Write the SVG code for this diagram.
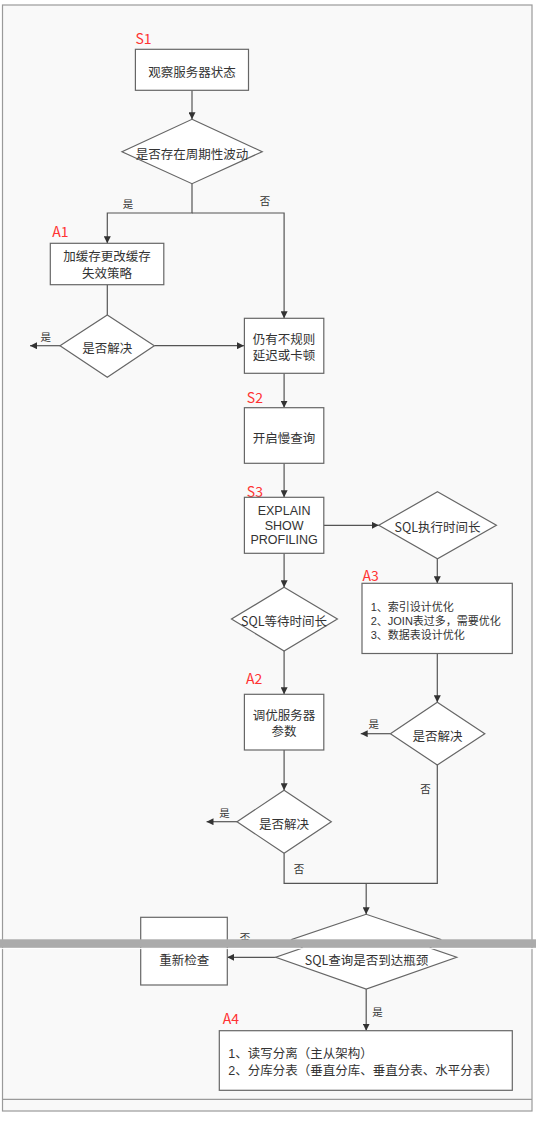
<svg xmlns="http://www.w3.org/2000/svg" width="536" height="1131" viewBox="0 0 536 1131">
<style>
.bg{fill:#f9f9f9;stroke:#9a9a9a;stroke-width:1.2}
.box{fill:#ffffff;stroke:#666666;stroke-width:1.2}
.t{font-family:"Noto Sans CJK SC","Noto Sans",sans-serif;font-size:12.5px;fill:#333333;text-anchor:middle;dominant-baseline:central}
.m{font-family:"Liberation Sans","Noto Sans CJK SC",sans-serif;font-size:12.5px;fill:#333333;text-anchor:middle;dominant-baseline:central}
.tl{font-family:"Liberation Sans","Noto Sans CJK SC",sans-serif;fill:#333333;dominant-baseline:central}
.lab{font-family:"Noto Sans CJK SC","Noto Sans",sans-serif;font-size:10.5px;fill:#333333;text-anchor:middle;dominant-baseline:central}
.red{font-family:"Noto Sans CJK SC","Noto Sans",sans-serif;font-size:14px;fill:#ff3333}
.c{fill:none;stroke:#555555;stroke-width:1.2}
.ca{fill:none;stroke:#555555;stroke-width:1.2;marker-end:url(#ah)}
</style>
<defs>
<marker id="ah" viewBox="0 0 10 10" refX="10" refY="5" markerWidth="7" markerHeight="7" markerUnits="userSpaceOnUse" orient="auto">
<path d="M0,0 L10,5 L0,10 Z" fill="#333333"/>
</marker>
</defs>
<rect x="0" y="0" width="536" height="1131" fill="#ffffff"/>
<rect class="bg" x="2.5" y="5" width="529.5" height="1106"/>
<line x1="2.5" y1="1099.3" x2="532" y2="1099.3" stroke="#9a9a9a" stroke-width="1.2"/>

<g id="connectors">
<line class="ca" x1="192" y1="90.3" x2="192" y2="119.3"/>
<polyline class="ca" points="192,183.7 192,213 107.3,213 107.3,243.3"/>
<polyline class="ca" points="192,213 284.1,213 284.1,318.3"/>
<line class="c" x1="107.3" y1="284.7" x2="107.3" y2="315" stroke-width="1.8"/>
<line class="ca" x1="60" y1="345.7" x2="30" y2="345.7"/>
<line class="ca" x1="154.3" y1="345.7" x2="244" y2="345.7"/>
<line class="ca" x1="284.1" y1="373.3" x2="284.1" y2="407.7"/>
<line class="ca" x1="284.1" y1="463.3" x2="284.1" y2="497.3"/>
<line class="ca" x1="323.8" y1="525.3" x2="378.8" y2="525.3"/>
<line class="ca" x1="437.3" y1="558.7" x2="437.3" y2="583.3"/>
<line class="ca" x1="437.3" y1="653.5" x2="437.3" y2="702.3"/>
<line class="ca" x1="390.4" y1="733.7" x2="360.7" y2="733.7"/>
<line class="ca" x1="284.1" y1="553.3" x2="284.1" y2="587.3"/>
<line class="ca" x1="284.1" y1="651" x2="284.1" y2="694.3"/>
<line class="ca" x1="284.1" y1="750" x2="284.1" y2="790.3"/>
<line class="ca" x1="237" y1="821.7" x2="206.5" y2="821.7"/>
<polyline class="c" points="284.1,853.3 284.1,883.3 437.3,883.3 437.3,765"/>
<line class="ca" x1="366.2" y1="883.3" x2="366.2" y2="914.3"/>
<line class="ca" x1="275.7" y1="957.3" x2="227.3" y2="957.3"/>
<line class="ca" x1="366.2" y1="989" x2="366.2" y2="1030.7"/>
<text class="lab" x="128" y="203">是</text>
<text class="lab" x="265" y="200">否</text>
<text class="lab" x="45.7" y="336">是</text>
<text class="lab" x="373.7" y="723.3">是</text>
<text class="lab" x="425.6" y="788.7">否</text>
<text class="lab" x="224.6" y="812.7">是</text>
<text class="lab" x="299.1" y="868.3">否</text>
<text class="lab" x="245" y="937.5">否</text>
<text class="lab" x="377.5" y="1011.7">是</text>
</g>

<g id="S1">
<text class="red" x="135.5" y="43.5">S1</text>
<rect class="box" x="135.4" y="49.3" width="113.1" height="41"/>
<text class="t" x="192" y="71">观察服务器状态</text>
</g>
<g id="D1">
<polygon class="box" points="192,119.3 262.2,151.7 192,183.7 122,151.7"/>
<text class="t" x="192" y="153">是否存在周期性波动</text>
</g>
<g id="A1">
<text class="red" x="52.3" y="237">A1</text>
<rect class="box" x="50.3" y="243.3" width="113.5" height="41.4"/>
<text class="m" x="107" y="257"><tspan x="107" y="257">加缓存更改缓存</tspan><tspan x="107" y="273.5">失效策略</tspan></text>
</g>
<g id="D2">
<polygon class="box" points="107.3,315 154.3,345.7 107.3,377.3 60,345.7"/>
<text class="t" x="107.3" y="347">是否解决</text>
</g>
<g id="N1">
<rect class="box" x="244.4" y="318.3" width="79.4" height="55"/>
<text class="m" x="284.1" y="340"><tspan x="284.1" y="340">仍有不规则</tspan><tspan x="284.1" y="355.5">延迟或卡顿</tspan></text>
</g>
<g id="S2">
<text class="red" x="246.8" y="403.3">S2</text>
<rect class="box" x="244.4" y="407.7" width="79.4" height="55.6"/>
<text class="t" x="284.1" y="437">开启慢查询</text>
</g>
<g id="S3">
<text class="red" x="246.8" y="496.7">S3</text>
<rect class="box" x="244.4" y="497.3" width="79.4" height="56"/>
<text class="m" x="284.1" y="511.3"><tspan x="284.1" y="511.3">EXPLAIN</tspan><tspan x="284.1" y="525.6">SHOW</tspan><tspan x="284.1" y="539.9">PROFILING</tspan></text>
</g>
<g id="D3">
<polygon class="box" points="437.5,491.7 496.4,525.3 437.5,558.7 378.8,525.3"/>
<text class="t" x="437.5" y="526.5">SQL执行时间长</text>
</g>
<g id="A3">
<text class="red" x="362.4" y="580.7">A3</text>
<rect class="box" x="362" y="583.3" width="150.3" height="70.2"/>
<text class="tl" font-size="11px" x="370.7" y="607.3"><tspan x="370.7" y="607.3">1、索引设计优化</tspan><tspan x="370.7" y="621">2、JOIN表过多，需要优化</tspan><tspan x="370.7" y="634.5">3、数据表设计优化</tspan></text>
</g>
<g id="D5">
<polygon class="box" points="437.3,702.3 484.8,733.7 437.3,765 390.4,733.7"/>
<text class="t" x="437.5" y="735">是否解决</text>
</g>
<g id="D4">
<polygon class="box" points="284.1,587.3 337.4,619 284.1,651 231.5,619"/>
<text class="t" x="284.1" y="620.5">SQL等待时间长</text>
</g>
<g id="A2">
<text class="red" x="246" y="684.3">A2</text>
<rect class="box" x="244.4" y="694.3" width="79.4" height="55.7"/>
<text class="m" x="284.1" y="716"><tspan x="284.1" y="716">调优服务器</tspan><tspan x="284.1" y="732">参数</tspan></text>
</g>
<g id="D6">
<polygon class="box" points="284.1,790.3 331.3,821.7 284.1,853.3 237,821.7"/>
<text class="t" x="284.1" y="823">是否解决</text>
</g>
<g id="D7">
<polygon class="box" points="366.2,914.3 291.7,939.5 302.4,948 275.7,957.3 366.2,989 456.7,957.3 430,948 440.7,939.5"/>
<text class="t" x="366.5" y="959.5">SQL查询是否到达瓶颈</text>
</g>
<g id="R1">
<rect class="box" x="140.7" y="917.3" width="86.6" height="67.7"/>
<text class="t" x="184.3" y="959.5">重新检查</text>
</g>
<g id="A4">
<text class="red" x="222.7" y="1024">A4</text>
<rect class="box" x="219.3" y="1030.7" width="293" height="59.6"/>
<text class="tl" font-size="12.5px" x="228.3" y="1054.3"><tspan x="228.3" y="1054.3">1、读写分离（主从架构）</tspan><tspan x="228.3" y="1071">2、分库分表（垂直分库、垂直分表、水平分表）</tspan></text>
</g>
<rect x="0" y="939.3" width="536" height="8.5" fill="#ababab"/>
<line x1="0" y1="948.6" x2="536" y2="948.6" stroke="#ffffff" stroke-width="1"/>
</svg>
